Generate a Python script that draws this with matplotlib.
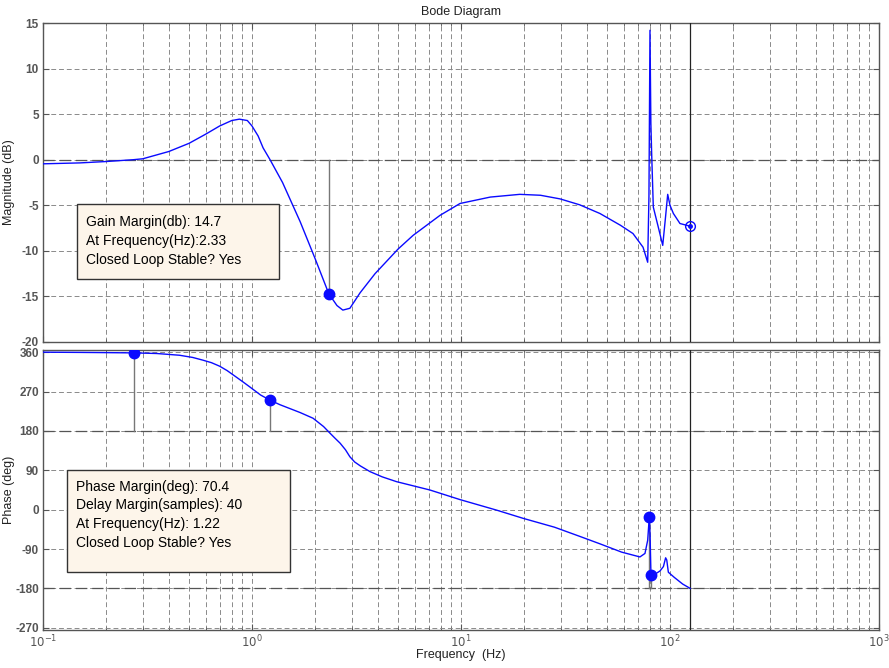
import numpy as np
import matplotlib
matplotlib.use("Agg")
import matplotlib.pyplot as plt
from matplotlib.patches import Rectangle

plt.rcParams['font.family'] = ['Liberation Sans', 'DejaVu Sans']
plt.rcParams['axes.unicode_minus'] = False

# ---------------- data ----------------
mag_freq = [0.1, 0.15, 0.2, 0.27, 0.3, 0.4, 0.5, 0.6, 0.7, 0.8, 0.87, 0.95, 1.0, 1.07,
            1.13, 1.22, 1.4, 1.7, 2.0, 2.33, 2.55, 2.72, 2.94, 3.29, 3.88, 5.0, 5.9,
            7.94, 9.9, 13.8, 19.1, 24.0, 29.8, 37.0, 46.2, 58.0, 66.5, 74.3, 78.2,
            79.3, 80.2, 81.0, 81.7, 83.2, 87.9, 92.3, 95.0, 97.5, 100.0, 103.8, 111.6, 125.0]
mag_db = [-0.45, -0.35, -0.2, 0.0, 0.1, 0.9, 1.8, 2.8, 3.7, 4.3, 4.45, 4.3, 3.7, 2.6,
          1.3, 0.0, -2.5, -6.8, -10.8, -14.7, -16.0, -16.5, -16.3, -14.6, -12.5, -9.8, -8.3,
          -6.1, -4.8, -4.1, -3.8, -3.9, -4.3, -4.95, -5.9, -7.2, -8.1, -9.6, -11.25,
          -4.0, 14.2, 4.0, 0.7, -5.2, -7.4, -9.4, -6.5, -3.8, -5.0, -5.9, -7.0, -7.3]

phase_freq = [0.1, 0.15, 0.2, 0.272, 0.35, 0.45, 0.52, 0.58, 0.64, 0.7, 0.76, 0.83,
              0.9, 0.98, 1.1, 1.22, 1.36, 1.7, 1.96, 2.2, 2.36, 2.5, 2.64, 2.8, 2.94,
              3.1, 3.3, 3.67, 4.2, 4.92, 7.1, 9.9, 14.8, 19.9,
              28.0, 37.0, 46.2, 58.7, 71.8, 75.9, 78.2, 79.6, 80.3, 81.1, 85.0, 89.6,
              93.0, 95.3, 96.5, 98.2, 105.0, 115.0, 125.0]
phase_deg = [360, 359.5, 359, 358.4, 357, 353, 348, 342, 336, 328, 318, 305,
             293, 280, 262, 250.4, 240, 222, 209, 190, 175, 163, 152, 137, 121,
             109, 100, 87, 75, 64, 45, 23, -1, -20,
             -40, -61, -78, -97, -108, -100, -70, -16.5, -60, -150, -147, -140,
             -130, -110, -115, -143, -155, -170, -180]

gm_freq, gm_db = 2.33, -14.7
pm_freq = [0.272, 1.22]
pm_phase = [358.4, 250.4]
pm_ref = 180
pm2_freq = [79.6, 81.1]
pm2_phase = [-16.5, -150]
pm2_ref = -180
nyq_freq = 125.0
end_mag = -7.3

mag_ticks = [-20, -15, -10, -5, 0, 5, 10, 15]
phase_ticks = [-270, -180, -90, 0, 90, 180, 270, 360]
x_ticks = [0.1, 1, 10, 100, 1000]
x_ticklabels = [r'$10^{-1}$', r'$10^{0}$', r'$10^{1}$', r'$10^{2}$', r'$10^{3}$']

gm_text = ["Gain Margin(db): 14.7", "At Frequency(Hz):2.33", "Closed Loop Stable? Yes"]
pm_text = ["Phase Margin(deg): 70.4", "Delay Margin(samples): 40",
           "At Frequency(Hz): 1.22", "Closed Loop Stable? Yes"]

# ---------------- figure ----------------
W, H = 889, 668
fig = plt.figure(figsize=(W / 100, H / 100), dpi=100)

def fr(l, t, r, b):
    return [l / W, 1 - b / H, (r - l) / W, (b - t) / H]

ax1 = fig.add_axes(fr(43, 23, 879, 342))
ax2 = fig.add_axes(fr(43, 350, 879, 630))

grid_col = '#8a8a8a'
tick_col = '#555555'
blue = '#0a0aff'

for ax in (ax1, ax2):
    ax.set_xscale('log')
    ax.set_xlim(0.1, 1000)
    ax.grid(True, which='major', axis='both', color=grid_col, lw=0.7, dashes=(5, 3))
    ax.grid(True, which='minor', axis='x', color=grid_col, lw=0.7, dashes=(5, 3))
    ax.tick_params(which='both', direction='in', top=True, right=True, colors=tick_col,
                   labelsize=8.5, pad=3)
    ax.tick_params(which='major', length=4)
    ax.tick_params(which='minor', length=2.5)
    for s in ax.spines.values():
        s.set_color('#555555')
        s.set_linewidth(1.0)
    ax.set_axisbelow(True)
    ax.axvline(nyq_freq, color='#222222', lw=0.9, zorder=3)

# magnitude
ax1.set_ylim(-20, 15)
ax1.set_yticks(mag_ticks)
ax1.set_xticks(x_ticks)
ax1.set_xticklabels([])
ax1.axhline(0, color='#555555', lw=0.9, dashes=(9, 4), zorder=1)
ax1.plot(mag_freq, mag_db, color=blue, lw=1.0, zorder=4)
ax1.plot([gm_freq, gm_freq], [0, gm_db], color='#777777', lw=1.0, zorder=3)
ax1.plot([gm_freq], [gm_db], 'o', color=blue, ms=7.5, zorder=5)
ax1.plot([nyq_freq], [end_mag], 'o', mfc='none', mec=blue, ms=7, mew=1.0, zorder=5)
ax1.plot([nyq_freq], [end_mag], 'o', color=blue, ms=2.5, zorder=5)
ax1.set_ylabel('Magnitude (dB)', fontsize=9, color='#222222')
ax1.yaxis.set_label_coords(-0.034, 0.5)
ax1.set_title('Bode Diagram', fontsize=9, color='#222222', pad=6)

# phase
ax2.set_ylim(-275, 365)
ax2.set_yticks(phase_ticks)
ax2.set_xticks(x_ticks)
ax2.set_xticklabels(x_ticklabels)
ax2.axhline(180, color='#555555', lw=0.9, dashes=(9, 4), zorder=1)
ax2.axhline(-180, color='#555555', lw=0.9, dashes=(9, 4), zorder=1)
ax2.plot(phase_freq, phase_deg, color=blue, lw=1.0, zorder=4)
for f, p in zip(pm_freq, pm_phase):
    ax2.plot([f, f], [pm_ref, p], color='#777777', lw=1.0, zorder=3)
for f, p in zip(pm2_freq, pm2_phase):
    ax2.plot([f, f], [pm2_ref, p], color='#777777', lw=1.0, zorder=3)
ax2.plot(pm_freq + pm2_freq, pm_phase + pm2_phase, 'o', color=blue, ms=7.5, zorder=5,
         ls='none')
ax2.set_ylabel('Phase (deg)', fontsize=9, color='#222222')
ax2.yaxis.set_label_coords(-0.034, 0.5)
ax2.set_xlabel('Frequency  (Hz)', fontsize=9, color='#222222', labelpad=-1)

for ax in (ax1, ax2):
    for lab in ax.get_xticklabels() + ax.get_yticklabels():
        lab.set_fontweight('bold')

# text boxes
def box(ax, l, t, r, b, ax_px, lines, tx, ty0, dy):
    al, at, ar, ab = ax_px
    aw, ah = ar - al, ab - at
    ax.add_patch(Rectangle(((l - al) / aw, (ab - b) / ah), (r - l) / aw, (b - t) / ah,
                           transform=ax.transAxes, facecolor='#fdf5ea',
                           edgecolor='#333333', lw=1.0, zorder=6))
    for i, s in enumerate(lines):
        y = ty0 + i * dy
        ax.text((tx - al) / aw, (ab - y) / ah, s, transform=ax.transAxes,
                fontsize=10, color='black', va='center', ha='left', zorder=7)

box(ax1, 77, 204, 279, 279, (43, 23, 879, 342), gm_text, 86, 222, 18.8)
box(ax2, 67, 470, 290, 572, (43, 350, 879, 630), pm_text, 76, 486.5, 18.7)

fig.savefig('out.png', dpi=100)
